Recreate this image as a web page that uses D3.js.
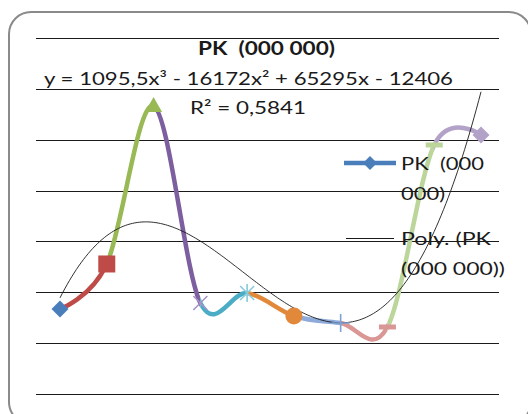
<!DOCTYPE html>
<html><head><meta charset="utf-8">
<script src="https://cdn.jsdelivr.net/npm/d3@7"></script>
<style>body{margin:0;background:#fff}svg{display:block}text{white-space:pre}</style>
</head><body>
<svg id="c" width="528" height="414"></svg>
<script>
const categories = [1, 2, 3, 4, 5, 6, 7, 8, 9, 10];
const values = [33430, 51130, 113270, 35790, 39720, 30680, 27920, 26350, 97930, 101860];
const yTicks = [0, 20000, 40000, 60000, 80000, 100000, 120000, 140000];
const trendCoefs = [1095.5, -16172, 65295, -12406]; // x^3, x^2, x, const
const pointColors = ["#4A7EBB", "#BE4B48", "#98B954", "#7D5FA0", "#4BACC6", "#E2883A", "#8EAADB", "#D99795", "#BBD59A", "#B3A2C7"];
const markerColors = ["#4A7EBB", "#BE4B48", "#98B954", "#A593C8", "#86CADB", "#E2883A", "#7FA1D5", "#D99795", "#BBD59A", "#B3A2C7"];
const markerTypes = ["diamond", "square", "triangle", "x", "star", "circle", "plus", "dash", "dash", "diamond"];
const titleText = "PK  (000 000)";
const equationText = "y = 1095,5x³ - 16172x² + 65295x - 12406";
const r2Text = "R² = 0,5841";
const legendSeriesLines = ["PK  (000", "000)"];
const legendTrendLines = ["Poly. (PK", "(000 000))"];

const svg = d3.select("#c");
const W = 528, H = 414;
const plotL = 36, plotR = 499;
const x = d3.scalePoint().domain(categories).range([60, 481]);
const y = d3.scaleLinear().domain([0, 140000]).range([394, 38]);

// chart border
svg.append("rect").attr("x", 9).attr("y", 12).attr("width", 522).attr("height", 412)
  .attr("rx", 22).attr("fill", "#fff").attr("stroke", "#8a8a8a").attr("stroke-width", 2);

// gridlines
svg.append("g").selectAll("line").data(yTicks).join("line")
  .attr("x1", plotL).attr("x2", plotR)
  .attr("y1", d => Math.round(y(d)) + 0.5).attr("y2", d => Math.round(y(d)) + 0.5)
  .attr("stroke", "#1a1a1a").attr("stroke-width", 1.1);

// smoothed line split into colored segments
const pts = categories.map((c, i) => [x(c), y(values[i])]);
const lineGen = d3.line().curve(d3.curveCardinal.tension(0));
const fullD = lineGen(pts);
const defs = svg.append("defs");
const segG = svg.append("g");
for (let k = 0; k < categories.length - 1; k++) {
  const id = "clip" + k;
  defs.append("clipPath").attr("id", id).append("rect")
    .attr("x", x(categories[k])).attr("y", 0)
    .attr("width", x(categories[k + 1]) - x(categories[k])).attr("height", H);
  segG.append("path").attr("d", fullD).attr("fill", "none")
    .attr("stroke", pointColors[k + 1]).attr("stroke-width", 4.5)
    .attr("stroke-linejoin", "round").attr("clip-path", `url(#${id})`);
}

// trendline
const poly = t => trendCoefs[0] * t * t * t + trendCoefs[1] * t * t + trendCoefs[2] * t + trendCoefs[3];
const tSamples = d3.range(1, 10.001, 0.05);
const tx = d3.scaleLinear().domain([1, 10]).range([x(1), x(10)]);
svg.append("path").attr("d", d3.line()(tSamples.map(t => [tx(t), y(poly(t))])))
  .attr("fill", "none").attr("stroke", "#1a1a1a").attr("stroke-width", 0.9);

// markers
function drawMarker(g, type, cx, cy, color) {
  if (type === "diamond") {
    const s = 8.5;
    g.append("path").attr("d", `M${cx},${cy - s}L${cx + s},${cy}L${cx},${cy + s}L${cx - s},${cy}Z`).attr("fill", color);
  } else if (type === "square") {
    g.append("rect").attr("x", cx - 8.5).attr("y", cy - 8.5).attr("width", 17).attr("height", 17).attr("fill", color);
  } else if (type === "triangle") {
    g.append("path").attr("d", `M${cx},${cy - 9}L${cx + 8.5},${cy + 6}L${cx - 8.5},${cy + 6}Z`).attr("fill", color);
  } else if (type === "x") {
    const s = 7;
    g.append("path").attr("d", `M${cx - s},${cy - s}L${cx + s},${cy + s}M${cx - s},${cy + s}L${cx + s},${cy - s}`)
      .attr("stroke", color).attr("stroke-width", 1.6).attr("fill", "none");
  } else if (type === "star") {
    const s = 7;
    g.append("path").attr("d", `M${cx - s},${cy - s}L${cx + s},${cy + s}M${cx - s},${cy + s}L${cx + s},${cy - s}M${cx},${cy - 9}L${cx},${cy + 9}`)
      .attr("stroke", color).attr("stroke-width", 1.6).attr("fill", "none");
  } else if (type === "circle") {
    g.append("circle").attr("cx", cx).attr("cy", cy).attr("r", 8.5).attr("fill", color);
  } else if (type === "plus") {
    g.append("path").attr("d", `M${cx},${cy - 9}L${cx},${cy + 9}M${cx - 9},${cy}L${cx + 9},${cy}`)
      .attr("stroke", color).attr("stroke-width", 1.6).attr("fill", "none");
  } else if (type === "dash") {
    g.append("rect").attr("x", cx - 8.5).attr("y", cy - 2.5).attr("width", 17).attr("height", 5).attr("fill", color);
  }
}
const mg = svg.append("g");
categories.forEach((c, i) => drawMarker(mg, markerTypes[i], x(c), y(values[i]), markerColors[i]));

// texts
const FONT = "Lato, 'Open Sans', sans-serif";
function txt(str, tx0, ty, size, weight, width, anchor) {
  const t = svg.append("text").attr("x", tx0).attr("y", ty).text(str)
    .attr("xml:space", "preserve")
    .attr("font-family", FONT).attr("font-size", size).attr("font-weight", weight || "normal")
    .attr("fill", "#1a1a1a").attr("text-anchor", anchor || "start");
  if (width) t.attr("textLength", width).attr("lengthAdjust", "spacingAndGlyphs");
  return t;
}
txt(titleText, 198, 55, 18, "bold", 137);
txt(equationText, 44, 85, 18, "normal", 409);
txt(r2Text, 190, 114, 18, "normal", 116);

// legend
svg.append("line").attr("x1", 344).attr("x2", 396).attr("y1", 163).attr("y2", 163)
  .attr("stroke", pointColors[0]).attr("stroke-width", 4.5);
svg.append("path").attr("d", `M370,156L377,163L370,170L363,163Z`).attr("fill", pointColors[0]);
txt(legendSeriesLines[0], 401, 170, 18, "normal", 83);
txt(legendSeriesLines[1], 401, 200, 18, "normal", 44);
svg.append("line").attr("x1", 346).attr("x2", 394).attr("y1", 238.5).attr("y2", 238.5)
  .attr("stroke", "#1a1a1a").attr("stroke-width", 1);
txt(legendTrendLines[0], 401, 245, 18, "normal", 90);
txt(legendTrendLines[1], 401, 275, 18, "normal", 104);
</script>
</body></html>
